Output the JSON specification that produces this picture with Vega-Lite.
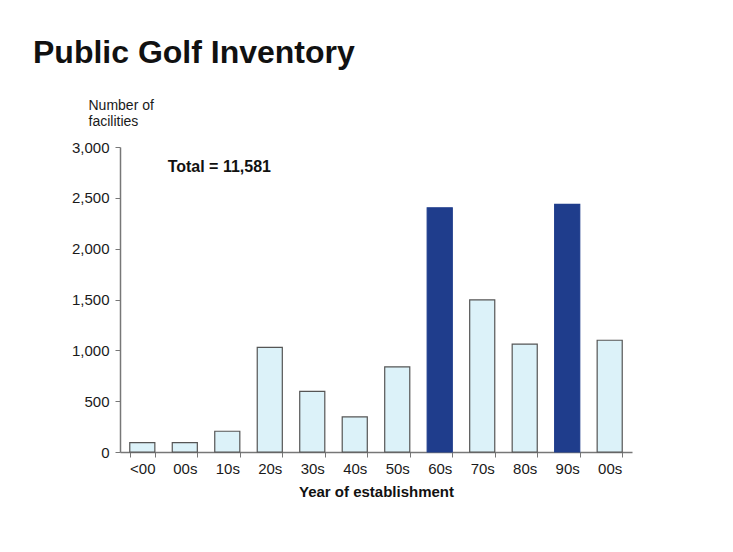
{
  "$schema": "https://vega.github.io/schema/vega-lite/v6.json",
  "width": 512,
  "height": 305,
  "autosize": {"type": "none"},
  "padding": {"left": 120, "top": 147, "right": 101, "bottom": 100},
  "background": "white",
  "title": {
    "text": "Public Golf Inventory",
    "anchor": "start",
    "frame": "group",
    "dx": -87,
    "font": "Liberation Sans",
    "fontSize": 32,
    "fontWeight": "bold",
    "color": "#111111",
    "offset": 28
  },
  "config": {
    "view": {"stroke": null},
    "font": "Liberation Sans"
  },
  "datasets": {
    "bars": [
      {"decade": "<00", "facilities": 93, "highlight": "no"},
      {"decade": "00s", "facilities": 93, "highlight": "no"},
      {"decade": "10s", "facilities": 204, "highlight": "no"},
      {"decade": "20s", "facilities": 1030, "highlight": "no"},
      {"decade": "30s", "facilities": 596, "highlight": "no"},
      {"decade": "40s", "facilities": 345, "highlight": "no"},
      {"decade": "50s", "facilities": 838, "highlight": "no"},
      {"decade": "60s", "facilities": 2402, "highlight": "yes"},
      {"decade": "70s", "facilities": 1496, "highlight": "no"},
      {"decade": "80s", "facilities": 1062, "highlight": "no"},
      {"decade": "90s", "facilities": 2435, "highlight": "yes"},
      {"decade": "00s ", "facilities": 1099, "highlight": "no"}
    ],
    "note": [
      {"decade": "10s", "facilities": 2800, "label": "Total = 11,581"}
    ]
  },
  "layer": [
    {
      "data": {"name": "bars"},
      "mark": {"type": "bar", "strokeWidth": 1.2},
      "encoding": {
        "x": {
          "field": "decade",
          "type": "nominal",
          "sort": null,
          "scale": {"paddingInner": 0.41, "paddingOuter": 0.23},
          "axis": {
            "title": "Year of establishment",
            "titleFont": "Liberation Sans",
            "titleFontSize": 15,
            "titleFontWeight": "bold",
            "titleColor": "#111111",
            "titlePadding": 8,
            "labelAngle": 0,
            "labelFontSize": 15,
            "labelColor": "#1a1a1a",
            "labelPadding": 4,
            "labelExpr": "trim(datum.label)",
            "tickBand": "extent",
            "tickSize": 5,
            "tickColor": "#777777",
            "domainColor": "#777777",
            "domainWidth": 1.5
          }
        },
        "y": {
          "field": "facilities",
          "type": "quantitative",
          "scale": {"domain": [0, 3000]},
          "axis": {
            "title": ["Number of", "facilities"],
            "titleAngle": 0,
            "titleAlign": "left",
            "titleBaseline": "top",
            "titleX": -32,
            "titleY": -49,
            "titleFontSize": 14,
            "titleFontWeight": "normal",
            "titleColor": "#1a1a1a",
            "values": [0, 500, 1000, 1500, 2000, 2500, 3000],
            "format": ",.0f",
            "grid": false,
            "labelFontSize": 15,
            "labelColor": "#1a1a1a",
            "labelPadding": 6,
            "tickSize": 5,
            "tickColor": "#777777",
            "domainColor": "#777777",
            "domainWidth": 1.5
          }
        },
        "color": {
          "field": "highlight",
          "type": "nominal",
          "scale": {"domain": ["no", "yes"], "range": ["#dcf2f9", "#1f3d8c"]},
          "legend": null
        },
        "stroke": {
          "field": "highlight",
          "type": "nominal",
          "scale": {"domain": ["no", "yes"], "range": ["#555555", "#1f3d8c"]},
          "legend": null
        }
      }
    },
    {
      "data": {"name": "note"},
      "mark": {"type": "text", "fontSize": 16, "fontWeight": "bold", "color": "#111111", "align": "center", "dx": -8},
      "encoding": {
        "x": {"field": "decade", "type": "nominal", "sort": null},
        "y": {"field": "facilities", "type": "quantitative"},
        "text": {"field": "label"}
      }
    }
  ]
}
